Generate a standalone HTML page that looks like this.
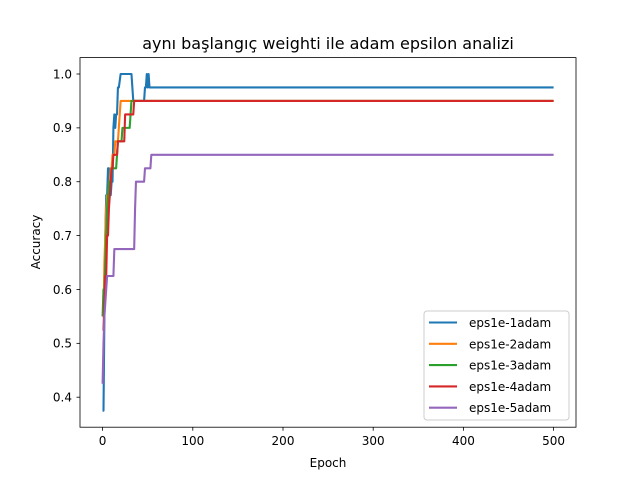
<!DOCTYPE html>
<html><head><meta charset="utf-8"><style>
body{margin:0;background:#fff;}
svg{display:block;font-family:"DejaVu Sans","Liberation Sans",sans-serif;}
</style></head><body>
<svg id="chart" width="640" height="480" viewBox="0 0 640 480">
<rect width="640" height="480" fill="#fff"/>
<text x="328" y="49" font-size="16" text-anchor="middle">aynı başlangıç weighti ile adam epsilon analizi</text>
<g id="plot"></g>
<rect x="80" y="57.6" width="496" height="369.6" fill="none" stroke="#000" stroke-width="0.8"/>
<text x="328" y="467" font-size="12" text-anchor="middle">Epoch</text>
<text x="0" y="0" font-size="12" text-anchor="middle" transform="translate(40,242) rotate(-90)">Accuracy</text>
<g id="legend">
<rect x="424" y="311" width="145" height="109" rx="3" fill="#fff" fill-opacity="0.8" stroke="#ccc"/>
</g>
</svg>
<script>
const seriesNames=["eps1e-1adam","eps1e-2adam","eps1e-3adam","eps1e-4adam","eps1e-5adam"];
const colors=["#1f77b4","#ff7f0e","#2ca02c","#d62728","#9467bd"];
const blueEpochs=[0,1,2,3,4,5,6,7,8,9,10,11,12,13,14,15,16,17,18,20,21,32,33,34,46,47,48,49,50,51,52,500];
const blueValues=[0.375,0.375,0.55,0.7,0.775,0.775,0.825,0.825,0.775,0.775,0.8,0.8,0.9,0.925,0.9,0.925,0.925,0.975,0.975,1.0,1.0,1.0,0.975,0.95,0.95,0.975,0.975,1.0,0.975,1.0,0.975,0.975];
const orangeEpochs=[0,1,2,3,4,5,6,7,8,9,10,11,12,13,14,15,16,17,18,19,20,500];
const orangeValues=[0.55,0.55,0.65,0.7,0.75,0.775,0.775,0.8,0.8,0.825,0.825,0.85,0.85,0.85,0.875,0.875,0.875,0.875,0.9,0.925,0.95,0.95];
const greenEpochs=[0,1,2,3,4,5,6,7,8,9,10,11,15,16,17,21,22,30,31,32,500];
const greenValues=[0.55,0.6,0.6,0.65,0.7,0.75,0.775,0.8,0.8,0.8,0.825,0.825,0.825,0.85,0.875,0.875,0.9,0.9,0.925,0.95,0.95];
const redEpochs=[0,1,2,3,4,5,6,7,8,9,10,11,12,13,16,17,18,24,25,34,35,500];
const redValues=[0.525,0.525,0.575,0.625,0.625,0.7,0.7,0.75,0.775,0.8,0.825,0.825,0.85,0.85,0.85,0.875,0.875,0.875,0.925,0.925,0.95,0.95];
const purpleEpochs=[0,1,2,3,4,5,6,7,8,12,13,35,36,37,45,46,47,48,52,53,54,55,56,500];
const purpleValues=[0.425,0.5,0.55,0.575,0.6,0.625,0.625,0.625,0.625,0.625,0.675,0.675,0.75,0.8,0.8,0.8,0.825,0.825,0.825,0.825,0.85,0.85,0.85,0.85];
const xTicks=[0,100,200,300,400,500];
const yTicks=[0.4,0.5,0.6,0.7,0.8,0.9,1.0];
const allEpochs=[blueEpochs,orangeEpochs,greenEpochs,redEpochs,purpleEpochs];
const allValues=[blueValues,orangeValues,greenValues,redValues,purpleValues];

const NS="http://www.w3.org/2000/svg";
function xs(v){return 102.6+v*(553.6-102.6)/500;}
function ys(v){return 397.2-(v-0.4)*(397.2-74.0)/0.6;}
const plot=document.getElementById('plot');
function mk(t,a,parent){const e=document.createElementNS(NS,t);for(const k in a)e.setAttribute(k,a[k]);(parent||plot).appendChild(e);return e;}

xTicks.forEach(t=>{
  const l=mk('line',{x1:xs(t),x2:xs(t),y1:427.2,y2:430.7,stroke:'#000','stroke-width':0.8});
  
  
  const tx=mk('text',{x:xs(t),y:445,'font-size':12,'text-anchor':'middle'});
  tx.textContent=String(t);
  
  
});
yTicks.forEach(t=>{
  const l=mk('line',{x1:76.5,x2:80,y1:ys(t),y2:ys(t),stroke:'#000','stroke-width':0.8});
  
  
  const tx=mk('text',{x:72,y:ys(t)+4.3,'font-size':12,'text-anchor':'end'});
  tx.textContent=t.toFixed(1);
  
  
});
allEpochs.forEach((ep,i)=>{
  const pts=ep.map((e,j)=>xs(e).toFixed(2)+','+ys(allValues[i][j]).toFixed(2)).join(' ');
  const p=mk('polyline',{points:pts,fill:'none',stroke:colors[i],'stroke-width':2.1,'stroke-linejoin':'round'});
  
  
});
const leg=document.getElementById('legend');
seriesNames.forEach((n,i)=>{
  const y=322.5+i*21.3;
  const l=mk('line',{x1:429,x2:457,y1:y,y2:y,stroke:colors[i],'stroke-width':2.1},leg);
  
  
  const t=mk('text',{x:469,y:y+4.5,'font-size':12},leg);
  t.textContent=n;
  
  
});
</script>
</body></html>
